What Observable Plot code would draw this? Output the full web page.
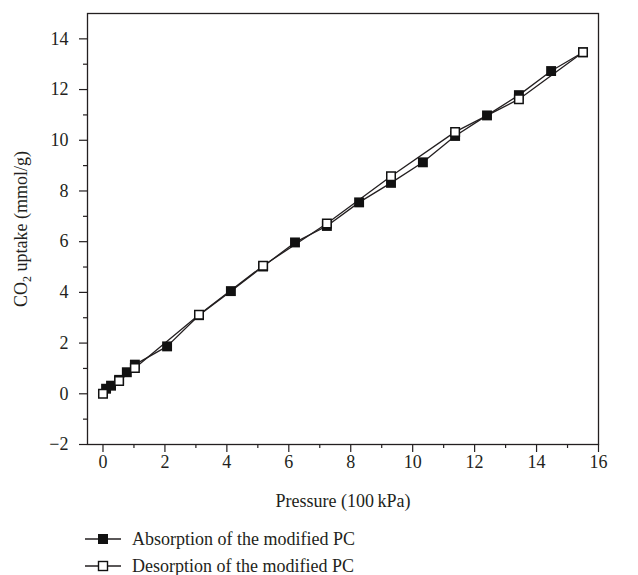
<!DOCTYPE html>
<html>
<head>
<meta charset="utf-8">
<script src="https://cdn.jsdelivr.net/npm/d3@7"></script>
<script src="https://cdn.jsdelivr.net/npm/@observablehq/plot@0.6"></script>
<style>
  html, body { margin: 0; padding: 0; background: #fff; }
  body { position: relative; width: 638px; height: 575px; overflow: hidden;
         font-family: "Liberation Serif", "DejaVu Serif", serif; color: #231f20; }
  #chart { position: absolute; left: 0; top: 0; }
  .legend-row { position: absolute; left: 85px; display: flex; align-items: center;
                font-size: 18px; line-height: 20px; white-space: nowrap; }
  .legend-row svg { margin-right: 11px; }
</style>
</head>
<body>
<div id="chart"></div>
<div class="legend-row" id="leg-abs" style="top:529px"></div>
<div class="legend-row" id="leg-des" style="top:556px"></div>
<script>
// ---- data ----
const absorptionPressure = [0.10, 0.26, 0.52, 0.77, 1.03, 2.07, 3.10, 4.13, 5.17, 6.20, 7.23, 8.27, 9.30, 10.33, 11.37, 12.40, 13.43, 14.47, 15.50];
const absorptionUptake   = [0.20, 0.32, 0.55, 0.85, 1.15, 1.87, 3.10, 4.05, 5.02, 5.97, 6.62, 7.55, 8.32, 9.13, 10.17, 10.98, 11.78, 12.73, 13.47];
const desorptionPressure = [0.00, 0.52, 1.03, 3.10, 5.17, 7.23, 9.30, 11.37, 13.43, 15.50];
const desorptionUptake   = [0.00, 0.50, 1.02, 3.12, 5.05, 6.72, 8.58, 10.33, 11.62, 13.47];
const xMajorTicks = [0, 2, 4, 6, 8, 10, 12, 14, 16];
const xMinorTicks = [1, 3, 5, 7, 9, 11, 13, 15];
const yMajorTicks = [-2, 0, 2, 4, 6, 8, 10, 12, 14];
const yMinorTicks = [-1, 1, 3, 5, 7, 9, 11, 13];
const seriesNames = ["Absorption of the modified PC", "Desorption of the modified PC"];

const absorption = absorptionPressure.map((p, i) => ({pressure: p, uptake: absorptionUptake[i]}));
const desorption = desorptionPressure.map((p, i) => ({pressure: p, uptake: desorptionUptake[i]}));

const ink = "#231f20";

const chart = Plot.plot({
  width: 638,
  height: 520,
  marginLeft: 87,
  marginRight: 40,
  marginTop: 13,
  marginBottom: 76,
  style: {fontFamily: '"Liberation Serif", "DejaVu Serif", serif', fontSize: "18px", color: ink, background: "white", overflow: "visible"},
  x: {domain: [-0.5, 16]},
  y: {domain: [-2, 15]},
  marks: [
    Plot.axisX(xMinorTicks, {tickSize: 4, strokeWidth: 1.2, tickFormat: () => "", label: null}),
    Plot.axisX(xMajorTicks, {tickSize: 8, strokeWidth: 1.2, tickPadding: 3, label: "Pressure (100\u2009kPa)", labelAnchor: "center", labelArrow: "none", labelOffset: 62}),
    Plot.axisY(yMinorTicks, {tickSize: 4, strokeWidth: 1.2, tickFormat: () => "", label: null}),
    Plot.axisY(yMajorTicks, {tickSize: 8, strokeWidth: 1.2, tickPadding: 11, label: "CO2 uptake (mmol/g)", labelAnchor: "center", labelArrow: "none", labelOffset: 73}),
    Plot.frame({stroke: ink, strokeWidth: 1.3}),
    Plot.line(absorption, {x: "pressure", y: "uptake", stroke: ink, strokeWidth: 1.3}),
    Plot.line(desorption, {x: "pressure", y: "uptake", stroke: ink, strokeWidth: 1.3}),
    Plot.dot(absorption, {x: "pressure", y: "uptake", symbol: "square", r: 5.6, fill: "#111", stroke: "none"}),
    Plot.dot(desorption, {x: "pressure", y: "uptake", symbol: "square", r: 4.8, fill: "white", stroke: "#111", strokeWidth: 1.5})
  ]
});
document.getElementById("chart").appendChild(chart);

// subscript in the y-axis label
const lab = d3.select(chart).select('g[aria-label="y-axis label"] text');
if (!lab.empty()) {
  lab.text(null);
  lab.append("tspan").text("CO");
  lab.append("tspan").attr("font-size", "12px").attr("dy", "4").text("2");
  lab.append("tspan").attr("dy", "-4").text(" uptake (mmol/g)");
}

// legend
function legendSwatch(filled) {
  const ns = "http://www.w3.org/2000/svg";
  const svg = document.createElementNS(ns, "svg");
  svg.setAttribute("width", "36"); svg.setAttribute("height", "14");
  const line = document.createElementNS(ns, "line");
  line.setAttribute("x1", "0"); line.setAttribute("x2", "36");
  line.setAttribute("y1", "7"); line.setAttribute("y2", "7");
  line.setAttribute("stroke", ink); line.setAttribute("stroke-width", "1.3");
  svg.appendChild(line);
  const rect = document.createElementNS(ns, "rect");
  if (filled) {
    rect.setAttribute("x", "13"); rect.setAttribute("y", "2"); rect.setAttribute("width", "10"); rect.setAttribute("height", "10");
    rect.setAttribute("fill", "#111");
  } else {
    rect.setAttribute("x", "13.5"); rect.setAttribute("y", "2.5"); rect.setAttribute("width", "9"); rect.setAttribute("height", "9");
    rect.setAttribute("fill", "white"); rect.setAttribute("stroke", "#111"); rect.setAttribute("stroke-width", "1.4");
  }
  svg.appendChild(rect);
  return svg;
}
[["leg-abs", true, seriesNames[0]], ["leg-des", false, seriesNames[1]]].forEach(([id, filled, name]) => {
  const row = document.getElementById(id);
  row.appendChild(legendSwatch(filled));
  const span = document.createElement("span");
  span.textContent = name;
  row.appendChild(span);
});
</script>
</body>
</html>
